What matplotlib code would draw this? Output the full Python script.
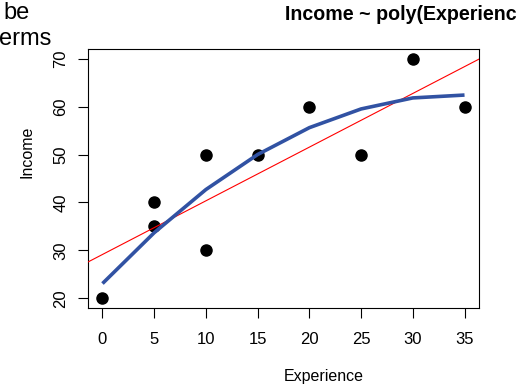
import matplotlib
matplotlib.use("Agg")
import matplotlib.pyplot as plt

plt.rcParams['font.family'] = ['Liberation Sans', 'DejaVu Sans']

# Data
experience = [0, 5, 5, 10, 10, 15, 20, 25, 30, 35]
income = [20, 40, 35, 50, 30, 50, 60, 50, 70, 60]
fit_x = [0, 5, 10, 15, 20, 25, 30, 35]
fit_y = [23.1, 33.7, 42.7, 50.0, 55.6, 59.5, 61.8, 62.4]
lm_intercept = 29.16
lm_slope = 1.119
x_ticks = [0, 5, 10, 15, 20, 25, 30, 35]
y_ticks = [20, 30, 40, 50, 60, 70]

W, H = 525, 390
fig = plt.figure(figsize=(W / 100, H / 100), dpi=100)
L, R, T, B = 88, 479, 49, 308
ax = fig.add_axes([L / W, 1 - B / H, (R - L) / W, (B - T) / H])

ax.plot(experience, income, 'o', color='black', markersize=8, zorder=3)
ax.axline((0, lm_intercept), slope=lm_slope, color='#ff0000', lw=0.8, zorder=4)
ax.plot(fit_x, fit_y, color='#3152a3', lw=2.6, zorder=5, solid_capstyle='butt')

ax.set_xlim(-1.4, 36.4)
ax.set_ylim(18, 72)
ax.set_xticks(x_ticks)
ax.set_yticks(y_ticks)
ax.set_xticklabels([str(v) for v in x_ticks])
ax.set_yticklabels([str(v) for v in y_ticks], rotation=90, va='center')
ax.tick_params(axis='both', direction='out', length=7, width=0.8, labelsize=12, color='black')
ax.tick_params(axis='x', pad=10)
ax.tick_params(axis='y', pad=7)
for s in ax.spines.values():
    s.set_linewidth(0.8)
    s.set_color('black')

fig.text(324 / W, 1 - 376 / H, 'Experience', ha='center', va='center', fontsize=11.5)
fig.text(27 / W, 1 - 151.5 / H, 'Income', ha='center', va='center', rotation=90, fontsize=11.5)
fig.text(285 / W, 1 - 20 / H, 'Income ~ poly(Experienc', ha='left', va='baseline',
         fontsize=14.1, fontweight='bold')
fig.text(3 / W, 1 - 19 / H, 'be', ha='left', va='baseline', fontsize=17)
fig.text(-1 / W, 1 - 45 / H, 'erms', ha='left', va='baseline', fontsize=17)

fig.savefig('out.png', dpi=100)
